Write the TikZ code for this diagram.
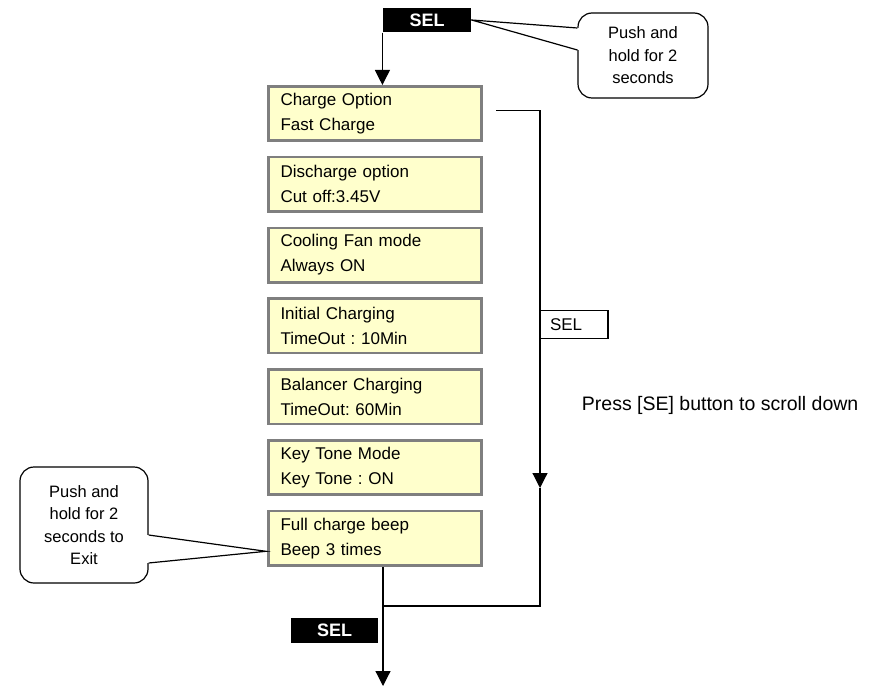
\documentclass[tikz,border=0pt]{standalone}
\usepackage{fontspec}
\setmainfont{Liberation Sans}
\usepackage{tikz}
\usetikzlibrary{arrows.meta,calc}
\definecolor{boxfill}{HTML}{FFFFCC}
\definecolor{boxgray}{HTML}{7F7F7F}
\frenchspacing

\begin{document}
\begin{tikzpicture}[x=1pt,y=-1pt,>={Triangle[width=15pt,length=15pt]},line width=1.2pt,
    menubox/.style={draw=boxgray, line width=2.6pt, fill=boxfill, minimum width=213.4pt, minimum height=54.4pt,
      text width=189pt, inner xsep=12pt, align=left, font=\fontsize{17}{25}\selectfont},
    selblack/.style={fill=black, text=white, inner sep=0pt, font=\bfseries\fontsize{18}{18}\selectfont},
    selwhite/.style={draw, fill=white, line width=1.2pt, minimum height=28pt, text width=48pt, inner xsep=10pt,
      align=left, font=\fontsize{17}{17}\selectfont},
    bubble/.style={draw, fill=white, line width=1.2pt, rounded corners=14pt, inner sep=0pt, align=center,
      font=\fontsize{16.5}{22.5}\selectfont}]

  \useasboundingbox (0,0) rectangle (885,687);

  % buttons and callouts
  \node[selblack, minimum width=88pt, minimum height=24pt] (selTop) at (427,20) {SEL};
  \node[bubble, minimum width=130pt, minimum height=85pt] (pushTop) at (643,55.5) {Push and\\hold for 2\\seconds};
  \node[bubble, minimum width=128pt, minimum height=116pt] (pushExit) at (84,525) {Push and\\hold for 2\\seconds to\\Exit};

  % menu items
  \foreach \i/\first/\second in {1/Charge Option/Fast Charge, 2/Discharge option/Cut off:3.45V,
      3/Cooling Fan mode/Always ON, 4/Initial Charging/TimeOut : 10Min, 5/Balancer Charging/TimeOut: 60Min,
      6/Key Tone Mode/Key Tone : ON, 7/Full charge beep/Beep 3 times}
    \node[menubox] (b\i) at (375,{113.5+(\i-1)*70.8}) {\first\\\second};

  \coordinate (loopStart) at ($(b1.east)+(13,-3)$);
  \coordinate (loopArrow) at (540,488);
  \coordinate (join) at (383,606);
  \coordinate (out) at (383,686);

  % connectors
  \draw[->] (selTop.south west) -- (selTop.south west |- b1.north);
  \draw[->] (loopStart) -| (loopArrow);
  \draw (loopArrow) |- (join);
  \draw[->] (join |- b7.south) -- (out);

  \node[selwhite, anchor=west] (selRight) at (539.4,324.5) {SEL};
  \node[selblack, minimum width=87pt, minimum height=25pt] (selBottom) at (334.5,630.5) {SEL};
  \node[anchor=west, font=\fontsize{19.5}{19.5}\selectfont] (hint) at (578,405) {Press [SE] button to scroll down};

  % callout pointers
  \fill[white] ($(pushTop.west)+(1.5,-27.5)$) -- (selTop.east) -- ($(pushTop.west)+(1.5,-5.5)$) -- cycle;
  \draw ($(pushTop.west)+(0,-27.5)$) -- (selTop.east) -- ($(pushTop.west)+(0,-5.5)$);
  \fill[white] ($(pushExit.east)+(-1.5,10)$) -- ($(b7.west)+(-1,13)$) -- ($(pushExit.east)+(-1.5,38)$) -- cycle;
  \draw ($(pushExit.east)+(0,10)$) -- ($(b7.west)+(-1,13)$) -- ($(pushExit.east)+(0,38)$);

\end{tikzpicture}
\end{document}
